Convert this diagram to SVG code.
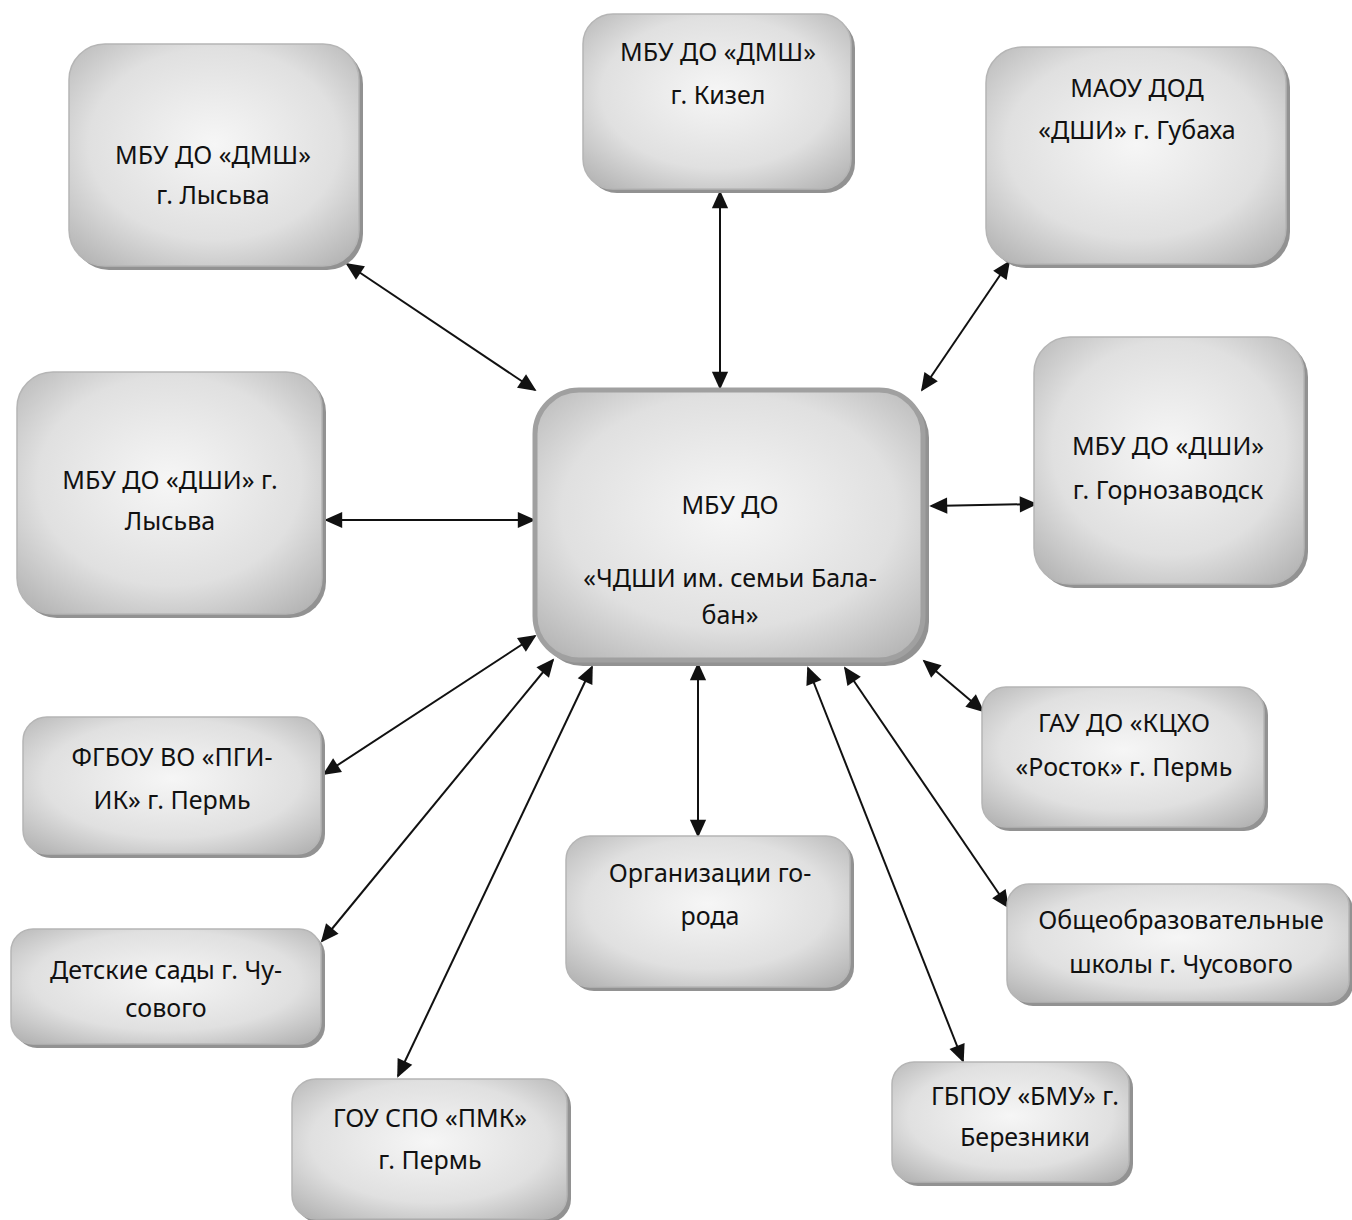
<svg xmlns="http://www.w3.org/2000/svg" width="1352" height="1220" viewBox="0 0 1352 1220">
<defs>
<radialGradient id="g" cx="0.5" cy="0.45" r="0.72">
<stop offset="0" stop-color="#f6f6f6"/>
<stop offset="0.6" stop-color="#e0e0e0"/>
<stop offset="1" stop-color="#b0b0b0"/>
</radialGradient>
<marker id="a" viewBox="0 0 10 10" refX="9" refY="5" markerWidth="22" markerHeight="18" markerUnits="userSpaceOnUse" orient="auto-start-reverse">
<path d="M0,0.5 L10,5 L0,9.5 z" fill="#111"/>
</marker>
</defs>
<style>
.sh{fill:#929292}
.bx{fill:url(#g);stroke:#b5b5b5;stroke-width:1.5}
.c{fill:url(#g);stroke:#a0a0a0;stroke-width:5}
text{font-family:"Noto Sans","Open Sans","DejaVu Sans",sans-serif;font-size:25px;fill:#111;text-anchor:middle}
.ln{stroke:#111;stroke-width:2;fill:none;marker-start:url(#a);marker-end:url(#a)}
</style>
<rect width="1352" height="1220" fill="#fff"/>

<g id="connectors">
<line class="ln" x1="347" y1="264" x2="535" y2="390"/>
<line class="ln" x1="720" y1="192" x2="720" y2="388"/>
<line class="ln" x1="1009" y1="262" x2="922" y2="390"/>
<line class="ln" x1="326" y1="520" x2="534" y2="520"/>
<line class="ln" x1="931" y1="506" x2="1036" y2="504"/>
<line class="ln" x1="535" y1="636" x2="324" y2="774"/>
<line class="ln" x1="553" y1="660" x2="322" y2="941"/>
<line class="ln" x1="592" y1="667" x2="398" y2="1076"/>
<line class="ln" x1="698" y1="664" x2="698" y2="836"/>
<line class="ln" x1="808" y1="668" x2="963" y2="1061"/>
<line class="ln" x1="845" y1="668" x2="1008" y2="907"/>
<line class="ln" x1="924" y1="661" x2="983" y2="711"/>
</g>

<g id="n1">
<rect class="sh" x="73" y="48" width="290" height="222" rx="36"/>
<rect class="bx" x="69" y="44" width="290" height="222" rx="36"/>
<text x="213" y="164">МБУ ДО «ДМШ»</text>
<text x="213" y="204">г. Лысьва</text>
</g>
<g id="n2">
<rect class="sh" x="587" y="18" width="268" height="175" rx="30"/>
<rect class="bx" x="583" y="14" width="268" height="175" rx="30"/>
<text x="718" y="61">МБУ ДО «ДМШ»</text>
<text x="718" y="104">г. Кизел</text>
</g>
<g id="n3">
<rect class="sh" x="990" y="51" width="300" height="217" rx="36"/>
<rect class="bx" x="986" y="47" width="300" height="217" rx="36"/>
<text x="1137" y="97">МАОУ ДОД</text>
<text x="1137" y="139">«ДШИ» г. Губаха</text>
</g>
<g id="n4">
<rect class="sh" x="21" y="376" width="305" height="242" rx="36"/>
<rect class="bx" x="17" y="372" width="305" height="242" rx="36"/>
<text x="170" y="489">МБУ ДО «ДШИ» г.</text>
<text x="170" y="530">Лысьва</text>
</g>
<g id="center">
<rect class="sh" x="539" y="394" width="390" height="272" rx="44"/>
<rect class="c" x="535" y="390" width="388" height="270" rx="44"/>
<text x="730" y="514">МБУ ДО</text>
<text x="730" y="587">«ЧДШИ им. семьи Бала-</text>
<text x="730" y="624">бан»</text>
</g>
<g id="n6">
<rect class="sh" x="1038" y="341" width="270" height="247" rx="36"/>
<rect class="bx" x="1034" y="337" width="270" height="247" rx="36"/>
<text x="1168" y="455">МБУ ДО «ДШИ»</text>
<text x="1168" y="499">г. Горнозаводск</text>
</g>
<g id="n7">
<rect class="sh" x="27" y="721" width="298" height="137" rx="24"/>
<rect class="bx" x="23" y="717" width="298" height="137" rx="24"/>
<text x="172" y="766">ФГБОУ ВО «ПГИ-</text>
<text x="172" y="809">ИК» г. Пермь</text>
</g>
<g id="n8">
<rect class="sh" x="986" y="691" width="282" height="140" rx="24"/>
<rect class="bx" x="982" y="687" width="282" height="140" rx="24"/>
<text x="1124" y="732">ГАУ ДО «КЦХО</text>
<text x="1124" y="776">«Росток» г. Пермь</text>
</g>
<g id="n9">
<rect class="sh" x="570" y="840" width="284" height="151" rx="24"/>
<rect class="bx" x="566" y="836" width="284" height="151" rx="24"/>
<text x="710" y="882">Организации го-</text>
<text x="710" y="925">рода</text>
</g>
<g id="n10">
<rect class="sh" x="1011" y="888" width="342" height="118" rx="22"/>
<rect class="bx" x="1007" y="884" width="342" height="118" rx="22"/>
<text x="1181" y="929">Общеобразовательные</text>
<text x="1181" y="973">школы г. Чусового</text>
</g>
<g id="n11">
<rect class="sh" x="15" y="933" width="310" height="115" rx="22"/>
<rect class="bx" x="11" y="929" width="310" height="115" rx="22"/>
<text x="166" y="979">Детские сады г. Чу-</text>
<text x="166" y="1017">сового</text>
</g>
<g id="n12">
<rect class="sh" x="296" y="1083" width="275" height="140" rx="24"/>
<rect class="bx" x="292" y="1079" width="275" height="140" rx="24"/>
<text x="430" y="1127">ГОУ СПО «ПМК»</text>
<text x="430" y="1169">г. Пермь</text>
</g>
<g id="n13">
<rect class="sh" x="896" y="1066" width="237" height="120" rx="22"/>
<rect class="bx" x="892" y="1062" width="237" height="120" rx="22"/>
<text x="1025" y="1105">ГБПОУ «БМУ» г.</text>
<text x="1025" y="1146">Березники</text>
</g>
</svg>
